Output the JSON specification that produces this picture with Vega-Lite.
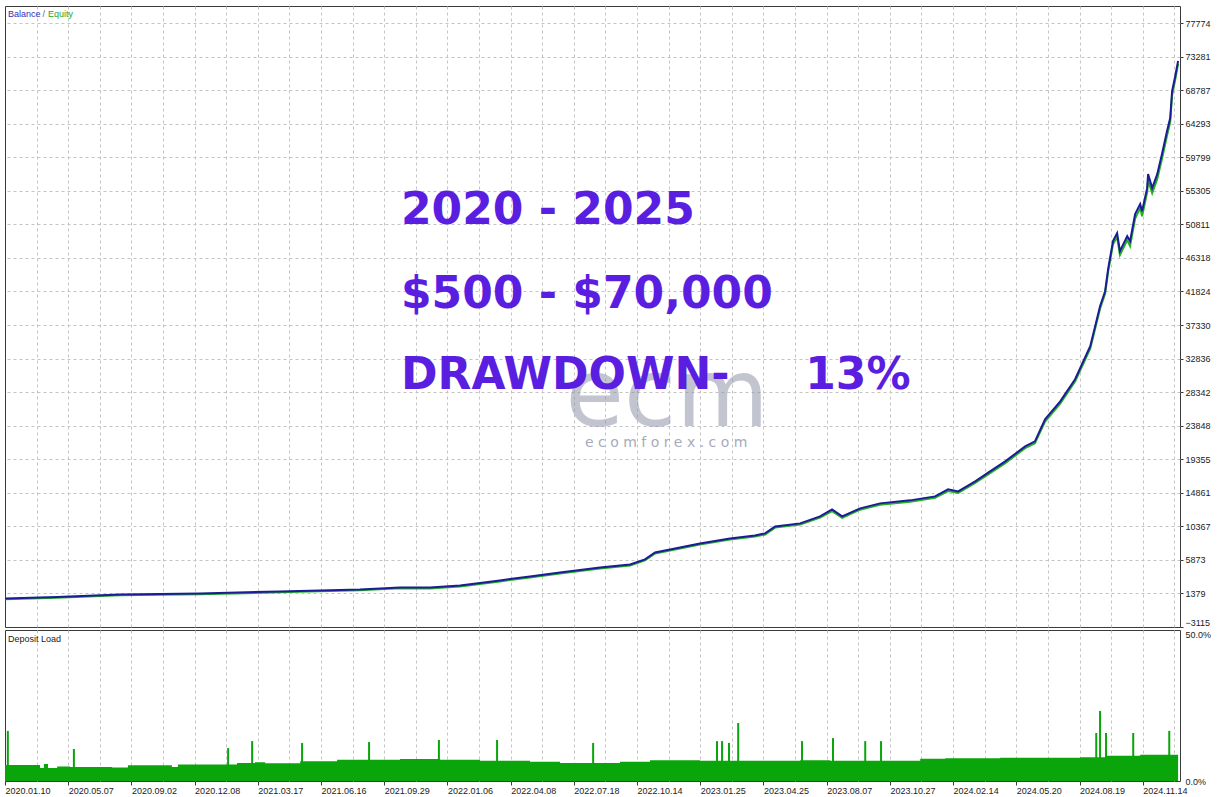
{
  "$schema": "https://vega.github.io/schema/vega-lite/v6.json",
  "background": "white",
  "padding": {"left": 0, "top": 5, "right": 0, "bottom": 0},
  "spacing": 1,
  "config": {
    "view": {"stroke": "#3a3a3a", "strokeWidth": 1},
    "axis": {"labelFont": "Liberation Sans", "labelFontSize": 9, "labelColor": "#222222", "tickColor": "#3a3a3a", "domain": false, "gridColor": "#c4c4c4", "gridDash": [3, 3], "gridWidth": 1, "title": null, "labelOverlap": false},
    "text": {"font": "Liberation Sans"}
  },
  "datasets": {
    "curve": [
      {"u": 0, "balance": 709, "equity": 600},
      {"u": 1.65, "balance": 910, "equity": 800},
      {"u": 3.64, "balance": 1245, "equity": 1130},
      {"u": 6.17, "balance": 1379, "equity": 1270},
      {"u": 8.7, "balance": 1647, "equity": 1530},
      {"u": 11.23, "balance": 1915, "equity": 1800},
      {"u": 12.5, "balance": 2183, "equity": 2060},
      {"u": 13.45, "balance": 2183, "equity": 2050},
      {"u": 14.4, "balance": 2451, "equity": 2320},
      {"u": 15.66, "balance": 3121, "equity": 2990},
      {"u": 16.61, "balance": 3657, "equity": 3520},
      {"u": 17.56, "balance": 4194, "equity": 4060},
      {"u": 18.83, "balance": 4864, "equity": 4720},
      {"u": 19.78, "balance": 5266, "equity": 5120},
      {"u": 20.25, "balance": 5936, "equity": 5800},
      {"u": 20.57, "balance": 6874, "equity": 6740},
      {"u": 21.36, "balance": 7544, "equity": 7400},
      {"u": 21.99, "balance": 8081, "equity": 7930},
      {"u": 22.94, "balance": 8751, "equity": 8600},
      {"u": 23.73, "balance": 9153, "equity": 9000},
      {"u": 24.05, "balance": 9421, "equity": 9260},
      {"u": 24.37, "balance": 10359, "equity": 10200},
      {"u": 25.16, "balance": 10761, "equity": 10600},
      {"u": 25.79, "balance": 11699, "equity": 11530},
      {"u": 26.17, "balance": 12638, "equity": 12400},
      {"u": 26.49, "balance": 11699, "equity": 11500},
      {"u": 27.06, "balance": 12772, "equity": 12600},
      {"u": 27.69, "balance": 13442, "equity": 13260},
      {"u": 28.64, "balance": 13844, "equity": 13660},
      {"u": 29.43, "balance": 14380, "equity": 14190},
      {"u": 29.84, "balance": 15318, "equity": 15100},
      {"u": 30.16, "balance": 15050, "equity": 14830},
      {"u": 30.7, "balance": 16390, "equity": 16170},
      {"u": 31.17, "balance": 17731, "equity": 17500},
      {"u": 31.65, "balance": 19071, "equity": 18830},
      {"u": 32.28, "balance": 21081, "equity": 20830},
      {"u": 32.59, "balance": 21752, "equity": 21500},
      {"u": 32.91, "balance": 24700, "equity": 24380},
      {"u": 33.39, "balance": 27113, "equity": 26800},
      {"u": 33.86, "balance": 30061, "equity": 29750},
      {"u": 34.34, "balance": 34484, "equity": 34150},
      {"u": 34.65, "balance": 39845, "equity": 39500},
      {"u": 34.81, "balance": 41856, "equity": 41500},
      {"u": 34.91, "balance": 44939, "equity": 44550},
      {"u": 35.06, "balance": 48558, "equity": 48150},
      {"u": 35.19, "balance": 49630, "equity": 49100},
      {"u": 35.28, "balance": 47217, "equity": 46700},
      {"u": 35.51, "balance": 49228, "equity": 48700},
      {"u": 35.6, "balance": 48558, "equity": 47900},
      {"u": 35.76, "balance": 52177, "equity": 51600},
      {"u": 35.92, "balance": 53517, "equity": 53000},
      {"u": 35.98, "balance": 52579, "equity": 51900},
      {"u": 36.14, "balance": 55661, "equity": 55100},
      {"u": 36.17, "balance": 57538, "equity": 56700},
      {"u": 36.3, "balance": 55661, "equity": 55000},
      {"u": 36.46, "balance": 57538, "equity": 56900},
      {"u": 36.61, "balance": 60218, "equity": 59600},
      {"u": 36.77, "balance": 63301, "equity": 62700},
      {"u": 36.87, "balance": 65043, "equity": 64500},
      {"u": 36.93, "balance": 68662, "equity": 68100},
      {"u": 37.03, "balance": 70672, "equity": 70200},
      {"u": 37.12, "balance": 72683, "equity": 72300}
    ],
    "load": [
      {"u": 0, "load": 5.3}, {"u": 1.11, "load": 4.3}, {"u": 1.23, "load": 5.6}, {"u": 1.36, "load": 4.3},
      {"u": 1.65, "load": 4.8}, {"u": 2.06, "load": 4.6}, {"u": 3.39, "load": 4.5}, {"u": 3.89, "load": 5.2},
      {"u": 5.28, "load": 4.6}, {"u": 5.47, "load": 5.5}, {"u": 7.34, "load": 6.0}, {"u": 7.91, "load": 6.2},
      {"u": 8.23, "load": 5.9}, {"u": 9.34, "load": 6.5}, {"u": 10.51, "load": 7.0}, {"u": 12.5, "load": 7.3},
      {"u": 13.77, "load": 7.0}, {"u": 15.03, "load": 6.7}, {"u": 16.61, "load": 6.4}, {"u": 17.56, "load": 6.0},
      {"u": 19.46, "load": 6.4}, {"u": 20.41, "load": 6.9}, {"u": 21.99, "load": 6.7}, {"u": 25.16, "load": 6.9},
      {"u": 26.11, "load": 6.7}, {"u": 28.96, "load": 7.4}, {"u": 29.75, "load": 7.5}, {"u": 31.49, "load": 7.7},
      {"u": 34.02, "load": 7.9}, {"u": 34.81, "load": 8.4}, {"u": 35.92, "load": 8.7}, {"u": 37.12, "load": 8.7}
    ],
    "spikes": [
      {"u": 0.09, "load": 16.6}, {"u": 2.18, "load": 10.6}, {"u": 7.06, "load": 10.9}, {"u": 7.82, "load": 13.2},
      {"u": 9.4, "load": 12.6}, {"u": 11.52, "load": 12.9}, {"u": 13.73, "load": 13.6}, {"u": 15.57, "load": 13.6},
      {"u": 18.61, "load": 12.6}, {"u": 22.53, "load": 13.2}, {"u": 22.69, "load": 13.2}, {"u": 22.91, "load": 12.6},
      {"u": 23.2, "load": 19.2}, {"u": 25.22, "load": 13.2}, {"u": 26.2, "load": 14.2}, {"u": 27.22, "load": 13.2},
      {"u": 27.72, "load": 13.2}, {"u": 34.53, "load": 15.9}, {"u": 34.65, "load": 23.2}, {"u": 34.84, "load": 15.9},
      {"u": 35.7, "load": 15.9}, {"u": 36.84, "load": 16.6}
    ],
    "headline": [
      {"u": 12.53, "v": 50836, "txt": "2020 - 2025"},
      {"u": 12.53, "v": 39578, "txt": "$500 - $70,000"},
      {"u": 12.53, "v": 28721, "txt": "DRAWDOWN-"},
      {"u": 25.32, "v": 28721, "txt": "13%"}
    ]
  },
  "vconcat": [
    {
      "width": 1175,
      "height": 621,
      "layer": [
        {
          "data": {"values": [{"u": 20.95, "v": 23762, "txt": "ecm"}]},
          "mark": {"type": "text", "font": "DejaVu Sans", "fontSize": 95, "color": "#9196aa", "opacity": 0.55, "align": "center", "baseline": "alphabetic"},
          "encoding": {
            "x": {"field": "u", "type": "quantitative", "scale": {"domain": [0, 37.18], "nice": false, "zero": false},
                  "axis": {"orient": "bottom", "labels": false, "ticks": false, "grid": true, "tickCount": 100, "values": [1,2,3,4,5,6,7,8,9,10,11,12,13,14,15,16,17,18,19,20,21,22,23,24,25,26,27,28,29,30,31,32,33,34,35,36,37]}},
            "y": {"field": "v", "type": "quantitative", "scale": {"domain": [-3115, 80052], "nice": false, "zero": false},
                  "axis": {"orient": "right", "tickCount": 100, "values": [-3115,1379,5873,10367,14861,19355,23848,28342,32836,37330,41824,46318,50811,55305,59799,64293,68787,73281,77774], "format": "d", "grid": true, "tickSize": 3, "labelPadding": 2, "labelOverlap": false, "labelBound": false,
                           "gridOpacity": {"condition": {"test": "datum.value < 0", "value": 0}, "value": 1},
                           "labelBaseline": {"condition": {"test": "datum.value < 0", "value": "bottom"}, "value": "middle"}}},
            "text": {"field": "txt"}
          }
        },
        {
          "data": {"values": [{"u": 20.92, "v": 21015, "txt": "e c o m f o r e x . c o m"}]},
          "mark": {"type": "text", "font": "DejaVu Sans", "fontSize": 14, "color": "#9196aa", "opacity": 0.8, "align": "center", "baseline": "alphabetic"},
          "encoding": {
            "x": {"field": "u", "type": "quantitative"},
            "y": {"field": "v", "type": "quantitative"},
            "text": {"field": "txt"}
          }
        },
        {
          "data": {"name": "curve"},
          "mark": {"type": "line", "color": "#22b022", "strokeWidth": 2},
          "encoding": {
            "x": {"field": "u", "type": "quantitative"},
            "y": {"field": "equity", "type": "quantitative"}
          }
        },
        {
          "data": {"name": "curve"},
          "mark": {"type": "line", "color": "#1c1c96", "strokeWidth": 2},
          "encoding": {
            "x": {"field": "u", "type": "quantitative"},
            "y": {"field": "balance", "type": "quantitative"}
          }
        },
        {
          "data": {"name": "headline"},
          "mark": {"type": "text", "font": "DejaVu Sans", "fontSize": 44, "fontWeight": "bold", "color": "#5a1ee0", "align": "left", "baseline": "alphabetic"},
          "encoding": {
            "x": {"field": "u", "type": "quantitative"},
            "y": {"field": "v", "type": "quantitative"},
            "text": {"field": "txt"}
          }
        },
        {
          "data": {"values": [{"u": 0.095, "v": 78980, "txt": "Balance"}]},
          "mark": {"type": "text", "fontSize": 9, "color": "#3030c0", "align": "left", "baseline": "middle"},
          "encoding": {
            "x": {"field": "u", "type": "quantitative"},
            "y": {"field": "v", "type": "quantitative"},
            "text": {"field": "txt"}
          }
        },
        {
          "data": {"values": [{"u": 1.23, "v": 78980, "txt": "/"}]},
          "mark": {"type": "text", "fontSize": 9, "color": "#666666", "align": "center", "baseline": "middle"},
          "encoding": {
            "x": {"field": "u", "type": "quantitative"},
            "y": {"field": "v", "type": "quantitative"},
            "text": {"field": "txt"}
          }
        },
        {
          "data": {"values": [{"u": 1.36, "v": 78980, "txt": "Equity"}]},
          "mark": {"type": "text", "fontSize": 9, "color": "#2aa52a", "align": "left", "baseline": "middle"},
          "encoding": {
            "x": {"field": "u", "type": "quantitative"},
            "y": {"field": "v", "type": "quantitative"},
            "text": {"field": "txt"}
          }
        }
      ]
    },
    {
      "width": 1175,
      "height": 151,
      "layer": [
        {
          "data": {"name": "load"},
          "mark": {"type": "area", "interpolate": "step-after", "color": "#0aa50a", "opacity": 1},
          "encoding": {
            "x": {"field": "u", "type": "quantitative", "scale": {"domain": [0, 37.18], "nice": false, "zero": false},
                  "axis": {"orient": "bottom", "grid": true, "tickCount": 100, "values": [0,1,2,3,4,5,6,7,8,9,10,11,12,13,14,15,16,17,18,19,20,21,22,23,24,25,26,27,28,29,30,31,32,33,34,35,36,37],
                           "tickSize": 4, "labelAlign": "left", "labelPadding": 1, "labelOverlap": false, "labelBound": false, "labelFlush": false,
                           "labelExpr": "datum.value % 2 == 0 ? ['2020.01.10','2020.05.07','2020.09.02','2020.12.08','2021.03.17','2021.06.16','2021.09.29','2022.01.06','2022.04.08','2022.07.18','2022.10.14','2023.01.25','2023.04.25','2023.08.07','2023.10.27','2024.02.14','2024.05.20','2024.08.19','2024.11.14'][datum.value / 2] : ''",
                           "tickOpacity": {"condition": {"test": "datum.value % 2 == 1", "value": 0}, "value": 1},
                           "gridOpacity": {"condition": {"test": "datum.value == 0", "value": 0}, "value": 1}}},
            "y": {"field": "load", "type": "quantitative", "scale": {"domain": [0, 50], "nice": false, "zero": true},
                  "axis": {"orient": "right", "values": [0, 50], "grid": false, "tickSize": 0, "labelPadding": 5, "labelOverlap": false, "labelBound": false,
                           "labelExpr": "format(datum.value, '.1f') + '%'",
                           "labelBaseline": {"condition": {"test": "datum.value == 50", "value": "top"}, "value": "middle"}}}
          }
        },
        {
          "data": {"name": "spikes"},
          "mark": {"type": "rule", "color": "#0aa50a", "strokeWidth": 2},
          "encoding": {
            "x": {"field": "u", "type": "quantitative"},
            "y": {"field": "load", "type": "quantitative"},
            "y2": {"datum": 0}
          }
        },
        {
          "data": {"values": [{"u": 0.095, "load": 47, "txt": "Deposit Load"}]},
          "mark": {"type": "text", "fontSize": 9, "color": "#222222", "align": "left", "baseline": "middle"},
          "encoding": {
            "x": {"field": "u", "type": "quantitative"},
            "y": {"field": "load", "type": "quantitative"},
            "text": {"field": "txt"}
          }
        }
      ]
    }
  ]
}
